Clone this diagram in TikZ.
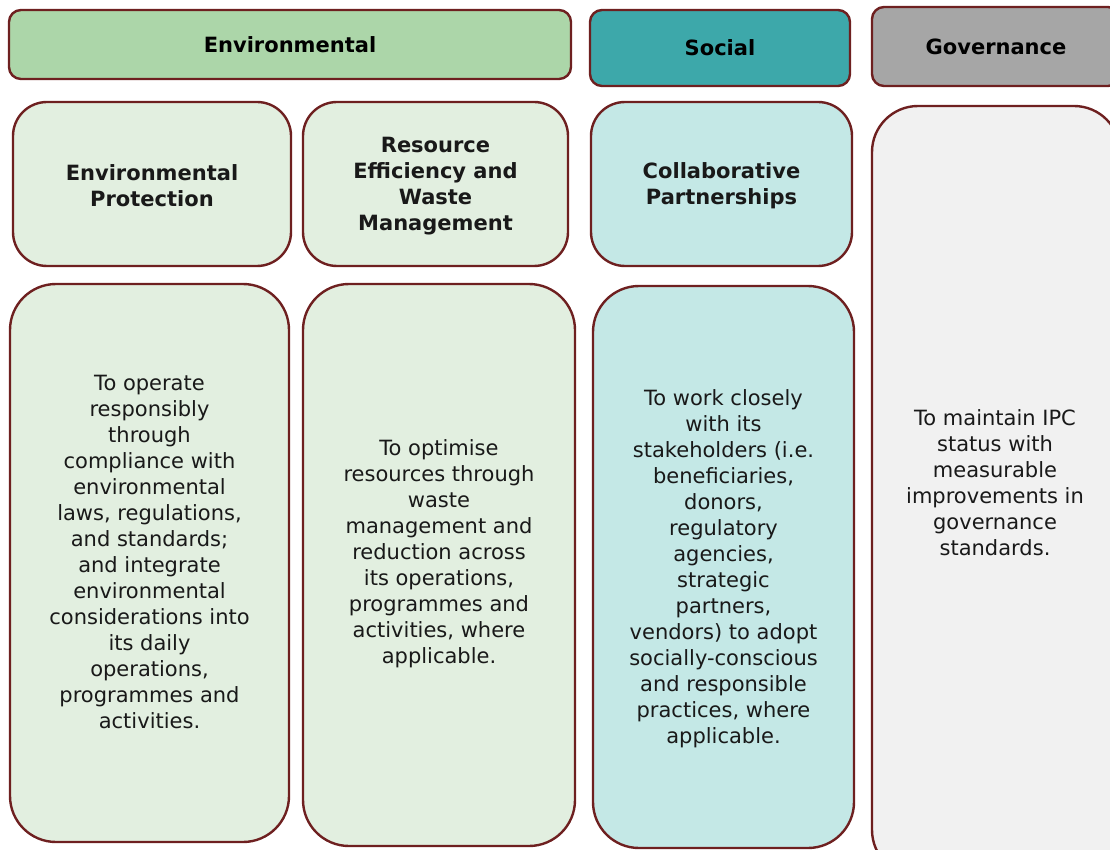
\documentclass[tikz,border=0pt]{standalone}
\usepackage{fontspec}
\setmainfont{DejaVu Sans}
\definecolor{rim}{HTML}{6E2020}
\definecolor{envtop}{HTML}{ACD6A9}
\definecolor{soctop}{HTML}{3DA8AA}
\definecolor{govtop}{HTML}{A6A6A6}
\definecolor{envpale}{HTML}{E2EFE0}
\definecolor{socpale}{HTML}{C4E8E6}
\definecolor{govpale}{HTML}{F1F1F1}
\begin{document}
\begin{tikzpicture}[x=1pt,y=-1pt,
		box/.style={draw=rim,line width=2.4pt,inner sep=0pt},
		pillar/.style={box,rounded corners=12pt,font=\fontsize{21}{26}\selectfont\bfseries},
		theme/.style={box,rounded corners=34pt},
		aim/.style={box,rounded corners=46pt},
		txt/.style={align=center,inner sep=0pt,text=black!90,font=\fontsize{21}{26}\selectfont},
		bold/.style={txt,font=\fontsize{21}{26}\selectfont\bfseries}]
		\useasboundingbox (0,0) rectangle (1110,850);
		\clip (0,0) rectangle (1110,850);
		% top row
		\node[pillar,fill=envtop,minimum width=562pt,minimum height=69pt] (env) at (290,44.5) {Environmental};
		\node[pillar,fill=soctop,minimum width=260pt,minimum height=76pt] (soc) at (720,48) {Social};
		\node[pillar,fill=govtop,minimum width=248pt,minimum height=79pt] (gov) at (996,46.5) {Governance};
		% themes
		\node[theme,fill=envpale,minimum width=278pt,minimum height=164pt] (protect) at (152,184) {};
		\node[theme,fill=envpale,minimum width=265pt,minimum height=164pt] (resource) at (435.5,184) {};
		\node[theme,fill=socpale,minimum width=261pt,minimum height=164pt] (partner) at (721.5,184) {};
		\node[bold] (protectT) at ([yshift=-2pt]protect.center) {Environmental\\Protection};
		\node[bold] (resourceT) at ([yshift=-2pt]resource.center) {Resource\\Efficiency and\\Waste\\Management};
		\node[bold] (partnerT) at ([yshift=-2pt]partner.center) {Collaborative\\Partnerships};
		% aims
		\node[aim,fill=envpale,minimum width=279pt,minimum height=558pt] (protectA) at (149.5,563) {};
		\node[aim,fill=envpale,minimum width=272pt,minimum height=562pt] (resourceA) at (439,565) {};
		\node[aim,fill=socpale,minimum width=261pt,minimum height=562pt] (partnerA) at (723.5,567) {};
		\node[aim,fill=govpale,minimum width=248pt,minimum height=770pt] (govA) at (996,491) {};
		\node[txt] (protectX) at ([yshift=11pt]protectA.center) {To operate\\responsibly\\through\\compliance with\\environmental\\laws, regulations,\\and standards;\\and integrate\\environmental\\considerations into\\its daily\\operations,\\programmes and\\activities.};
		\node[txt] (resourceX) at ([yshift=11pt]resourceA.center) {To optimise\\resources through\\waste\\management and\\reduction across\\its operations,\\programmes and\\activities, where\\applicable.};
		\node[txt] (partnerX) at ([yshift=-2pt]partnerA.center) {To work closely\\with its\\stakeholders (i.e.\\beneficiaries,\\donors,\\regulatory\\agencies,\\strategic\\partners,\\vendors) to adopt\\socially-conscious\\and responsible\\practices, where\\applicable.};
		\node[txt] (govX) at (995,483) {To maintain IPC\\status with\\measurable\\improvements in\\governance\\standards.};
	\end{tikzpicture}
\end{document}
